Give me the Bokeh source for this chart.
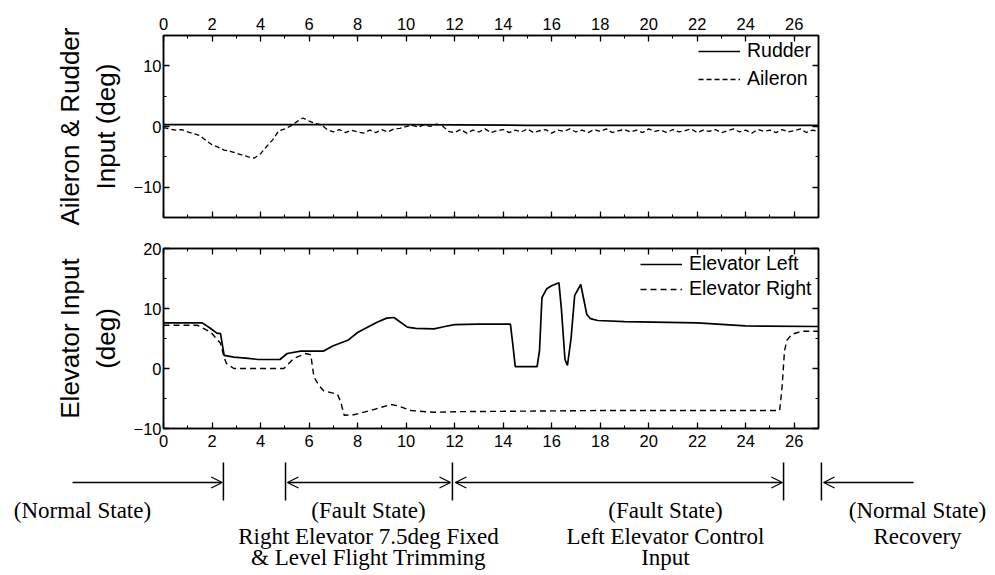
import numpy as np
from bokeh.plotting import figure
from bokeh.layouts import column
from bokeh.models import (Range1d, LinearAxis, SingleIntervalTicker, Legend,
                          LegendItem, Arrow, OpenHead, CustomLabelingPolicy)
from bokeh.core.properties import value
from bokeh.embed import file_html
from bokeh.resources import INLINE

# ---- data: time in seconds, deflections in degrees ----
rudder_t = [0, 5, 10, 15, 20, 27]
rudder_v = [0.3, 0.3, 0.3, 0.2, 0.2, 0.2]

# aileron sampled every 0.25 s
aileron_v = [
    -0.2, -0.4, -0.6, -0.5, -0.9, -1.2, -1.5, -2.3, -3.0, -3.4, -3.9, -4.1,
    -4.4, -4.7, -5.0, -5.2, -4.5, -3.3, -2.2, -0.7, -0.4, 0.1, 0.8, 1.4,
    0.9, 0.5, 0.3, -0.5, -0.9, -0.5, -1.0, -0.6, -0.9, -1.1, -0.6, -1.0,
    -0.5, -0.9, -0.4, -0.3, 0.0, 0.2, -0.1, 0.3, 0.0, 0.4, 0.1, -0.8,
    -1.0, -0.5, -1.1, -0.6, -0.9, -0.4, -1.0, -0.7, -0.5, -1.0, -0.6, -0.9,
    -0.4, -1.0, -0.7, -0.5, -1.1, -0.6, -0.8, -0.4, -0.9, -0.6, -1.0, -0.5,
    -0.8, -0.4, -1.0, -0.7, -0.5, -0.9, -0.6, -1.0, -0.4, -0.8, -0.6, -1.0,
    -0.5, -0.9, -0.7, -0.4, -1.0, -0.6, -0.8, -0.5, -1.0, -0.7, -0.4, -0.9,
    -0.6, -1.1, -0.5, -0.8, -0.6, -1.0, -0.5, -0.9, -0.7, -0.4, -1.0, -0.6,
    -0.8,
]
aileron_t = np.arange(len(aileron_v)) * 0.25

elev_left_t = [0, 1.6, 1.9, 2.2, 2.35, 2.5, 2.9, 3.5, 3.9, 4.8, 4.95, 5.1,
               5.65, 6.6, 7.0, 7.6, 8.0, 8.8, 9.2, 9.5, 10.05, 10.4, 11.15,
               11.6, 12.0, 13.0, 14.3, 14.4, 14.5, 15.4, 15.5, 15.6, 15.8,
               16.0, 16.3, 16.4, 16.55, 16.65, 16.8, 16.95, 17.2, 17.35,
               17.45, 17.6, 17.9, 19.0, 22.0, 24.0, 27.0]
elev_left_v = [7.6, 7.6, 6.8, 5.9, 5.8, 2.2, 1.9, 1.7, 1.5, 1.5, 2.0, 2.5,
               2.9, 2.9, 3.8, 4.7, 6.0, 7.7, 8.4, 8.5, 6.9, 6.7, 6.6,
               7.0, 7.3, 7.4, 7.4, 4.0, 0.3, 0.3, 3.0, 11.8, 13.3,
               13.8, 14.3, 10.0, 1.5, 0.5, 5.0, 12.2, 14.0, 11.0,
               9.0, 8.3, 8.0, 7.8, 7.6, 7.1, 7.0]

elev_right_t = [0, 1.4, 1.95, 2.35, 2.5, 2.6, 2.9, 4.96, 5.38, 5.86, 6.07,
                6.2, 6.4, 6.6, 7.17, 7.3, 7.45, 7.85, 8.54, 9.37, 9.65,
                10.2, 11.15, 12.0, 18.0, 25.4, 25.5, 25.6, 25.7, 25.9,
                26.3, 27.0]
elev_right_v = [7.2, 7.2, 6.05, 4.2, 1.8, 0.8, 0.0, 0.0, 1.7, 2.5, 2.3,
                -1.4, -2.8, -3.7, -4.3, -5.5, -7.8, -7.7, -7.0, -6.0, -6.2,
                -7.0, -7.3, -7.2, -7.0, -7.0, -3.0, 3.0, 4.7, 5.7,
                6.2, 6.2]

# flight phase boundaries (s)
phase_bounds = [2.47, 5.03, 11.91, 25.56, 27.12]

SANS = "Liberation Sans"
SERIF = "Liberation Serif"
X_END = 27
FRAME_W = 655
PX = FRAME_W / X_END  # pixels per second

# axes that carry only tick marks: drop every label
NO_LABELS = CustomLabelingPolicy(code="""
    for (const i of indices) { indices.unset(i) }
    return indices
""")


def style_axis(ax, labels=True, standoff=6):
    ax.axis_line_color = "black"
    ax.axis_line_width = 1.5
    ax.major_tick_in = 6
    ax.major_tick_out = 0
    ax.minor_tick_in = 3
    ax.minor_tick_out = 0
    ax.major_tick_line_color = "black"
    ax.minor_tick_line_color = "black"
    ax.major_tick_line_width = 1.3
    ax.minor_tick_line_width = 1.1
    ax.major_label_text_font = SANS
    ax.major_label_text_font_size = "16.5px"
    ax.major_label_text_color = "black"
    ax.major_label_standoff = standoff
    if not labels:
        ax.major_label_text_font_size = "8px"
        ax.major_label_standoff = 0
        ax.major_label_policy = NO_LABELS


def panel(height, yr, ytick, top, bottom, labels_above, ylabel):
    p = figure(width=995, height=height, x_range=Range1d(0, X_END),
               y_range=Range1d(*yr),
               x_axis_location="above" if labels_above else "below",
               output_backend="svg", toolbar_location=None,
               min_border_left=163, min_border_right=177,
               min_border_top=top, min_border_bottom=bottom)
    p.xgrid.visible = False
    p.ygrid.visible = False
    p.outline_line_color = "black"
    p.outline_line_width = 1.5
    p.background_fill_color = "white"
    p.border_fill_color = "white"
    p.xaxis.ticker = SingleIntervalTicker(interval=2, num_minor_ticks=2)
    p.yaxis.ticker = SingleIntervalTicker(interval=ytick, num_minor_ticks=2)
    style_axis(p.xaxis[0], standoff=6)
    style_axis(p.yaxis[0], standoff=2)
    p.yaxis.axis_label = ylabel
    p.yaxis.axis_label_text_font = SANS
    p.yaxis.axis_label_text_font_size = "26px"
    p.yaxis.axis_label_text_font_style = "normal"
    p.yaxis.axis_label_text_color = "black"
    p.yaxis.axis_label_standoff = 10
    other = LinearAxis(ticker=SingleIntervalTicker(interval=2, num_minor_ticks=2))
    style_axis(other, labels=False)
    p.add_layout(other, "below" if labels_above else "above")
    right = LinearAxis(ticker=SingleIntervalTicker(interval=ytick, num_minor_ticks=2))
    style_axis(right, labels=False)
    p.add_layout(right, "right")
    return p


def add_legend(p, items, spacing, loc):
    leg = Legend(items=items, location=loc, border_line_color=None,
                 background_fill_alpha=0, label_text_font=SANS,
                 label_text_font_size="19.5px", label_text_color="black",
                 glyph_width=42, glyph_height=20, label_height=20,
                 label_standoff=7, spacing=spacing, padding=0, margin=0)
    p.add_layout(leg)


# ---- top panel: aileron & rudder ----
p1 = panel(232, (-15, 15), 10, 35, 15, True, "Aileron & Rudder\nInput (deg)")
r_rud = p1.line(rudder_t, rudder_v, line_color="black", line_width=1.7)
r_ail = p1.line(aileron_t, aileron_v, line_color="black", line_width=1.3,
                line_dash="5 3")
add_legend(p1, [LegendItem(label="Rudder", renderers=[r_rud]),
                LegendItem(label="Aileron", renderers=[r_ail])], 5, (535, 127))

# ---- bottom panel: elevators ----
p2 = panel(223, (-10, 20), 10, 16, 27, False, "Elevator Input\n(deg)")
r_el = p2.line(elev_left_t, elev_left_v, line_color="black", line_width=1.7)
r_er = p2.line(elev_right_t, elev_right_v, line_color="black", line_width=1.4,
               line_dash="6 4")
add_legend(p2, [LegendItem(label="Elevator Left", renderers=[r_el]),
                LegendItem(label="Elevator Right", renderers=[r_er])], 2, (477, 128))

# ---- phase annotations under the time axis ----
x0 = -163 / PX
x1 = X_END + 177 / PX
p3 = figure(width=995, height=120, x_range=Range1d(x0, x1),
            y_range=Range1d(575, 455), min_border=0,
            x_axis_type=None, y_axis_type=None, output_backend="svg",
            toolbar_location=None)
p3.frame_align = False
p3.xgrid.visible = False
p3.ygrid.visible = False
p3.outline_line_color = None
p3.segment(x0=phase_bounds, y0=462, x1=phase_bounds, y1=500,
           line_color="black", line_width=1.5)

arrow_y = 482
arrows = [
    (-3.75, phase_bounds[0] - 0.05, False),
    (phase_bounds[1] + 0.08, phase_bounds[2] - 0.08, True),
    (phase_bounds[2] + 0.12, phase_bounds[3] - 0.05, True),
    (30.92, phase_bounds[4] + 0.09, False),
]
for xs, xe, both in arrows:
    p3.add_layout(Arrow(
        end=OpenHead(size=11, line_width=1.3, line_color="black"),
        start=OpenHead(size=11, line_width=1.3, line_color="black") if both else None,
        x_start=xs, y_start=arrow_y, x_end=xe, y_end=arrow_y,
        line_color="black", line_width=1.3))

ann_x = [-3.34, 8.45, 8.45, 8.45, 20.69, 20.69, 20.69, 31.08, 31.08]
ann_y = [510, 510, 536, 557, 510, 536, 557, 510, 536]
ann_text = ["(Normal State)", "(Fault State)", "Right Elevator 7.5deg Fixed",
            "& Level Flight Trimming", "(Fault State)",
            "Left Elevator Control", "Input", "(Normal State)", "Recovery"]
p3.text(x=ann_x, y=ann_y, text=ann_text, text_font=value(SERIF),
        text_font_size="23px", text_align="center", text_baseline="middle",
        text_color="black")

layout = column(p1, p2, p3, spacing=0)
open("out.html", "w").write(file_html(layout, INLINE))
